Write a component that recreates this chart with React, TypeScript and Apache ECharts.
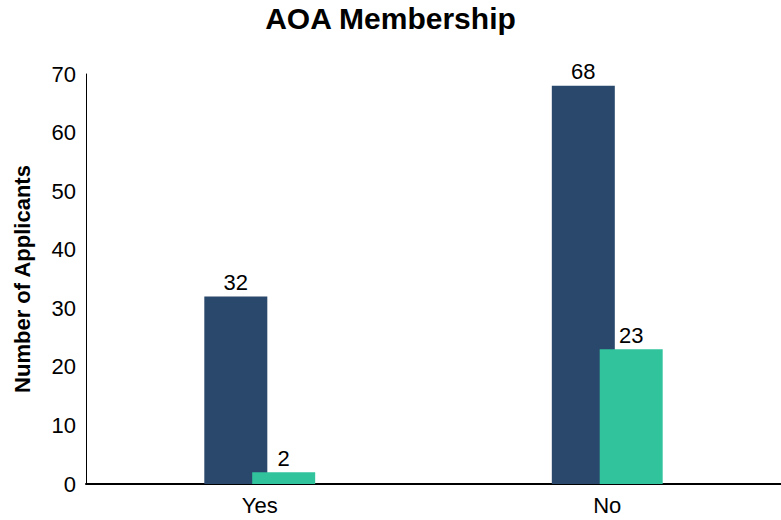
import React, { useEffect, useRef } from "react";
import * as echarts from "echarts";

const categories = ["Yes", "No"];
const seriesA = [32, 68];
const seriesB = [2, 23];
const yTicks = { min: 0, max: 70, interval: 10 };

export default function App() {
  const ref = useRef<HTMLDivElement>(null);
  useEffect(() => {
    if (!ref.current) return;
    const chart = echarts.init(ref.current, null, { renderer: "svg" });
    const font = "Liberation Sans, Arial, sans-serif";
    chart.setOption({
      animation: false,
      textStyle: { fontFamily: font },
      title: {
        text: "AOA Membership",
        left: "center",
        top: -2,
        textStyle: { fontSize: 30, fontWeight: "bold", color: "#000", fontFamily: font },
      },
      grid: { left: 86, right: 0, top: 74, bottom: 36, containLabel: false },
      xAxis: {
        type: "category",
        data: categories,
        axisLine: { show: true, lineStyle: { color: "#000", width: 2 } },
        axisTick: { show: false },
        axisLabel: { color: "#000", fontSize: 22, margin: 10, fontFamily: font },
      },
      yAxis: {
        type: "value",
        min: yTicks.min,
        max: yTicks.max,
        interval: yTicks.interval,
        name: "Number of Applicants",
        nameLocation: "middle",
        nameGap: 53,
        nameTextStyle: { fontSize: 22, fontWeight: "bold", color: "#000", fontFamily: font },
        axisLine: { show: true, lineStyle: { color: "#000", width: 1 } },
        axisTick: { show: false },
        splitLine: { show: false },
        axisLabel: { color: "#000", fontSize: 22, margin: 10, fontFamily: font },
      },
      series: [
        {
          type: "bar",
          data: seriesA,
          barWidth: 63,
          barGap: "-24%",
          itemStyle: { color: "#29486b" },
          label: { show: true, position: "top", color: "#000", fontSize: 22, fontFamily: font, distance: 3 },
        },
        {
          type: "bar",
          data: seriesB,
          barWidth: 63,
          barGap: "-24%",
          itemStyle: { color: "#31c39c" },
          label: { show: true, position: "top", color: "#000", fontSize: 22, fontFamily: font, distance: 3 },
        },
      ],
    });
    return () => chart.dispose();
  }, []);
  return <div ref={ref} style={{ width: 781, height: 520, position: "absolute", left: 0, top: 0 }} />;
}
